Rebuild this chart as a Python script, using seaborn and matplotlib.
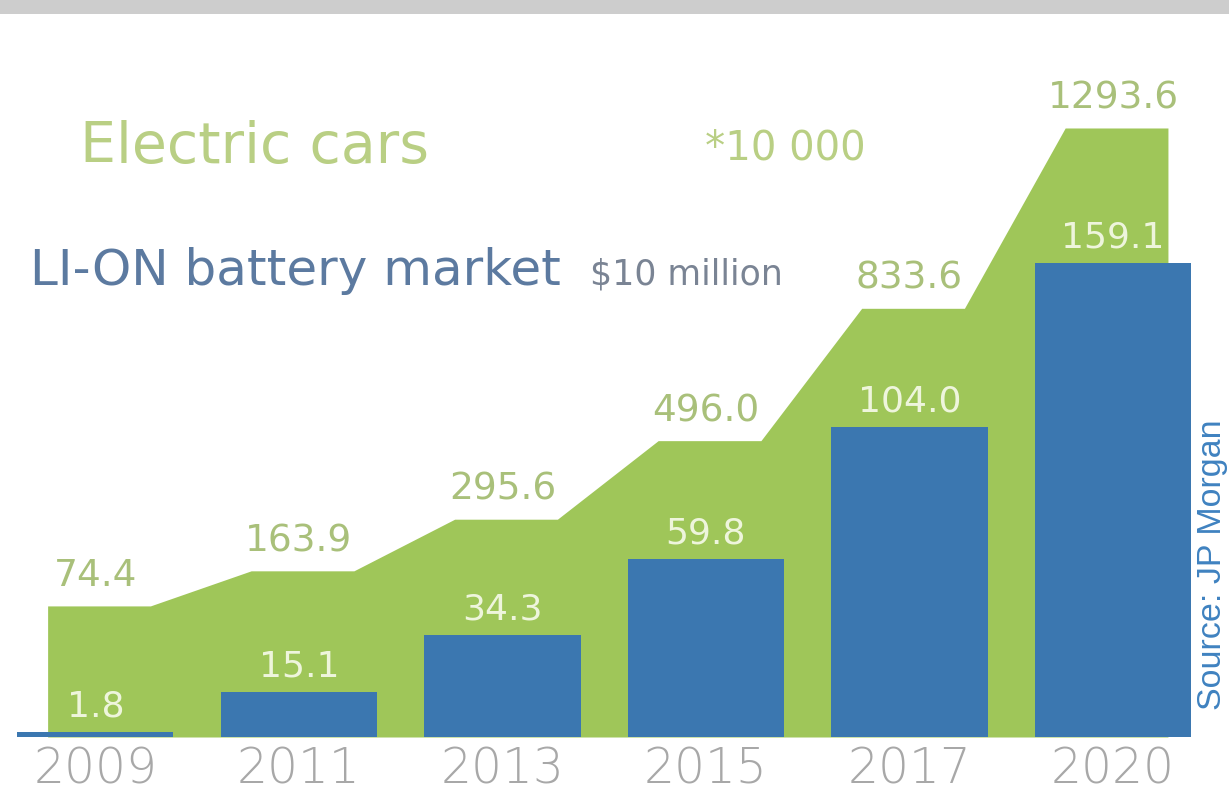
import numpy as np
import pandas as pd
import matplotlib
matplotlib.use("Agg")
import matplotlib.pyplot as plt
from matplotlib.patches import Rectangle
import seaborn as sns

# ---- data -------------------------------------------------------------
years = ["2009", "2011", "2013", "2015", "2017", "2020"]
electric_cars = [74.4, 163.9, 295.6, 496.0, 833.6, 1293.6]   # units of 10 000 cars
battery_market = [1.8, 15.1, 34.3, 59.8, 104.0, 159.1]      # $10 million

# ---- style ------------------------------------------------------------
sns.set_style("white")
plt.rcParams["font.family"] = ["DejaVu Sans"]

GREEN = "#9fc659"
BLUE = "#3b77b0"
GREEN_TEXT = "#a9c07a"
TITLE_GREEN = "#b9cf84"
PALE = "#eef5dc"
SLATE = "#5c7aa0"
GREY = "#a8a8a8"

W, H = 1229, 794
fig = plt.figure(figsize=(W / 100, H / 100), dpi=100)
fig.patch.set_facecolor("white")

base_px = 737
ax = fig.add_axes([0, 1 - base_px / H, 1, base_px / H])
ax2 = ax.twinx()

# electric cars: stepped area with flat tops around each year
green_bottom = -260
green_top = green_bottom + base_px / 0.392
flat_left, flat_right = 0.235, 0.27
xs, ys = [], []
for i, v in enumerate(electric_cars):
    xs += [i - flat_left, i + flat_right]
    ys += [v, v]
ax.fill_between(xs, ys, green_bottom, color=GREEN, linewidth=0)
ax.set_ylim(green_bottom, green_top)

for i, v in enumerate(electric_cars):
    ax.annotate(f"{v:.1f}", (i, v), xytext=(0, 14), textcoords="offset points",
                ha="center", va="baseline", fontsize=27, color=GREEN_TEXT)

# battery market: bars
df = pd.DataFrame({"year": years, "market": battery_market})
sns.barplot(data=df, x="year", y="market", order=years, ax=ax2, color=BLUE,
            saturation=1, width=0.767, errorbar=None, linewidth=0)
ax2.set_ylim(0, base_px / 2.98)

for i, v in enumerate(battery_market):
    ax2.annotate(f"{v:.1f}", (i, v), xytext=(0, 11), textcoords="offset points",
                 ha="center", va="baseline", fontsize=26, color=PALE)

xmin, xmax = -0.469, 5.570
ax.set_xlim(xmin, xmax)
ax2.set_xlim(xmin, xmax)

for a in (ax, ax2):
    for s in a.spines.values():
        s.set_visible(False)
    a.set_yticks([])
    a.set_ylabel("")
    a.set_xlabel("")
ax.patch.set_visible(False)

# year labels along the shared x axis
ax.set_xticks(range(len(years)))
ax.set_xticklabels(years, fontsize=35, color=GREY, fontweight="light")
ax.tick_params(axis="x", length=0, pad=6)

# ---- titles and source ------------------------------------------------
def px(x, y):
    return x / W, 1 - y / H

fig.text(*px(80, 163), "Electric cars", fontsize=41, color=TITLE_GREEN,
         ha="left", va="baseline")
fig.text(*px(705, 160), "*10 000", fontsize=29, color=TITLE_GREEN,
         ha="left", va="baseline")
fig.text(*px(30, 285), "LI-ON battery market", fontsize=36, color=SLATE,
         ha="left", va="baseline")
fig.text(*px(590, 285), "$10 million", fontsize=25, color="#7a8494",
         ha="left", va="baseline")
fig.text(*px(1212, 710), "Source: JP Morgan", fontsize=24.5, color="#3f82c0",
         family=["Liberation Sans", "DejaVu Sans"], rotation=90,
         ha="center", va="bottom")

# grey scanner border along the top edge
fig.add_artist(Rectangle((0, 1 - 14 / H), 1, 14 / H, transform=fig.transFigure,
                         facecolor="#cdcdcd", edgecolor="none"))

fig.savefig("out.png", dpi=100)
